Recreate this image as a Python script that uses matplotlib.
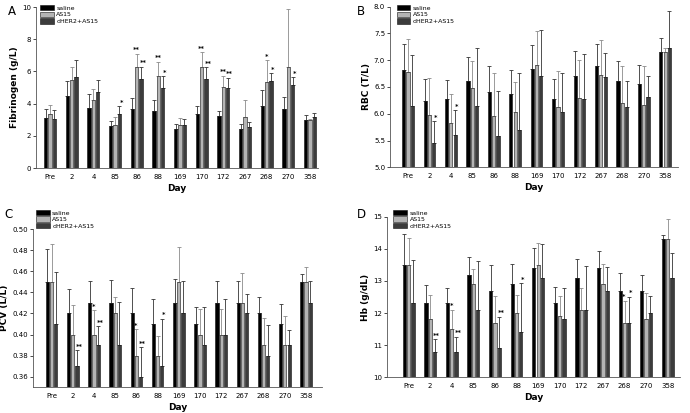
import numpy as np
import matplotlib
matplotlib.use("Agg")
import matplotlib.pyplot as plt
from matplotlib.ticker import FormatStrFormatter

days = ["Pre", "2", "4", "85", "86", "88", "169", "170", "172", "267", "268", "270", "358"]
series = ["saline", "AS15", "dHER2+AS15"]

# Panel A: Fibrinogen (g/L)
fib_saline = [3.10, 4.45, 3.75, 2.60, 3.70, 3.55, 2.45, 3.35, 3.25, 2.45, 3.85, 3.70, 3.00]
fib_as15 = [3.35, 5.50, 4.25, 2.70, 6.25, 5.70, 2.65, 6.25, 5.05, 3.15, 5.35, 6.25, 3.00]
fib_dher2 = [3.05, 5.65, 4.70, 3.35, 5.55, 4.95, 2.70, 5.55, 5.00, 2.55, 5.40, 5.15, 3.20]
fib_saline_err = [0.55, 0.95, 0.85, 0.30, 0.65, 0.65, 0.30, 0.50, 0.30, 0.30, 1.00, 0.70, 0.30]
fib_as15_err = [0.55, 0.80, 0.65, 0.45, 0.85, 0.90, 0.45, 0.95, 0.70, 1.05, 1.35, 3.65, 0.02]
fib_dher2_err = [0.55, 1.05, 0.80, 0.50, 0.75, 0.75, 0.35, 0.70, 0.60, 0.30, 0.50, 0.50, 0.25]
fib_as15_sig = ["", "", "", "", "**", "**", "", "**", "**", "", "*", "", ""]
fib_dher2_sig = ["", "", "", "*", "**", "*", "", "**", "**", "", "*", "*", ""]

# Panel B: RBC (T/L)
rbc_saline = [6.82, 6.24, 6.28, 6.62, 6.41, 6.37, 6.83, 6.27, 6.71, 6.90, 6.62, 6.56, 7.15]
rbc_as15 = [6.78, 5.98, 5.83, 6.48, 5.96, 6.03, 6.91, 6.13, 6.29, 6.73, 6.21, 6.17, 7.16]
rbc_dher2 = [6.15, 5.46, 5.61, 6.14, 5.58, 5.70, 6.71, 6.04, 6.27, 6.68, 6.13, 6.32, 7.22]
rbc_saline_err = [0.48, 0.41, 0.35, 0.44, 0.49, 0.44, 0.46, 0.38, 0.46, 0.41, 0.36, 0.36, 0.27]
rbc_as15_err = [0.62, 0.68, 0.54, 0.50, 0.80, 0.57, 0.63, 0.66, 0.71, 0.65, 0.69, 0.72, 0.06]
rbc_dher2_err = [0.95, 0.40, 0.46, 1.09, 0.84, 1.06, 0.86, 0.72, 0.85, 0.45, 0.48, 0.39, 0.70]
rbc_as15_sig = [""] * 13
rbc_dher2_sig = ["", "*", "*", "", "", "", "", "", "", "", "", "", ""]

# Panel C: PCV (L/L)
pcv_saline = [0.45, 0.42, 0.43, 0.43, 0.42, 0.41, 0.43, 0.41, 0.43, 0.43, 0.42, 0.41, 0.45]
pcv_as15 = [0.45, 0.40, 0.40, 0.42, 0.38, 0.38, 0.45, 0.40, 0.40, 0.43, 0.39, 0.39, 0.45]
pcv_dher2 = [0.41, 0.37, 0.39, 0.39, 0.36, 0.37, 0.42, 0.39, 0.40, 0.42, 0.38, 0.39, 0.43]
pcv_saline_err = [0.031, 0.023, 0.021, 0.022, 0.024, 0.024, 0.023, 0.016, 0.021, 0.021, 0.016, 0.019, 0.007]
pcv_as15_err = [0.036, 0.028, 0.023, 0.016, 0.025, 0.019, 0.033, 0.024, 0.024, 0.028, 0.026, 0.028, 0.014]
pcv_dher2_err = [0.049, 0.015, 0.018, 0.041, 0.028, 0.045, 0.031, 0.036, 0.034, 0.018, 0.029, 0.014, 0.021]
pcv_as15_sig = ["", "", "*", "", "*", "", "", "", "", "", "", "", ""]
pcv_dher2_sig = ["", "**", "**", "", "**", "*", "", "", "", "", "", "", ""]

# Panel D: Hb (g/dL)
hb_saline = [13.5, 12.3, 12.3, 13.2, 12.7, 12.9, 13.4, 12.3, 13.1, 13.4, 12.7, 12.7, 14.3]
hb_as15 = [13.5, 11.8, 11.5, 12.9, 11.7, 12.0, 13.5, 11.9, 12.1, 12.9, 11.7, 11.8, 14.3]
hb_dher2 = [12.3, 10.8, 10.8, 12.1, 10.9, 11.4, 13.1, 11.8, 12.1, 12.7, 11.7, 12.0, 13.1]
hb_saline_err = [0.95, 0.58, 0.48, 0.55, 0.80, 0.63, 0.62, 0.50, 0.58, 0.53, 0.54, 0.48, 0.13]
hb_as15_err = [0.85, 0.75, 0.60, 0.47, 0.84, 0.57, 0.68, 0.64, 0.68, 0.64, 0.68, 0.82, 0.63]
hb_dher2_err = [1.35, 0.38, 0.47, 1.52, 0.98, 1.53, 1.05, 0.98, 1.36, 0.72, 0.81, 0.52, 0.77]
hb_as15_sig = ["", "", "*", "", "", "", "", "", "", "", "*", "", ""]
hb_dher2_sig = ["", "**", "**", "", "**", "*", "", "", "", "", "*", "", ""]

bar_colors = ["#000000", "#b4b4b4", "#3c3c3c"]
err_colors = ["#333333", "#8a8a8a", "#333333"]
star_dx = [0.0, -0.02, 0.09]

fig = plt.figure(figsize=(6.9, 4.13), dpi=100)

panels = [
    dict(letter="A", rect=[0.0522, 0.593, 0.4087, 0.3898], xlim=(-0.65, 12.37),
         ylim=(0, 10), yticks=np.arange(0, 10.01, 2), fmt="%d", ylabel="Fibrinogen (g/L)",
         vals=[fib_saline, fib_as15, fib_dher2], errs=[fib_saline_err, fib_as15_err, fib_dher2_err],
         sigs=[None, fib_as15_sig, fib_dher2_sig], lpos=(0.058, 0.988), lxy=(0.012, 0.988)),
    dict(letter="B", rect=[0.5652, 0.5949, 0.4174, 0.3889], xlim=(-0.84, 12.6),
         ylim=(5.0, 8.0), yticks=np.arange(5.0, 8.01, 0.5), fmt="%.1f", ylabel="RBC (T/L)",
         vals=[rbc_saline, rbc_as15, rbc_dher2], errs=[rbc_saline_err, rbc_as15_err, rbc_dher2_err],
         sigs=[None, rbc_as15_sig, rbc_dher2_sig], lpos=(0.575, 0.988), lxy=(0.517, 0.988)),
    dict(letter="C", rect=[0.0475, 0.0622, 0.4191, 0.3833], xlim=(-0.89, 12.75),
         ylim=(0.35, 0.50), yticks=np.arange(0.36, 0.501, 0.02), fmt="%.2f", ylabel="PCV (L/L)",
         vals=[pcv_saline, pcv_as15, pcv_dher2], errs=[pcv_saline_err, pcv_as15_err, pcv_dher2_err],
         sigs=[None, pcv_as15_sig, pcv_dher2_sig], lpos=(0.052, 0.492), lxy=(0.007, 0.497)),
    dict(letter="D", rect=[0.5609, 0.0864, 0.4246, 0.3889], xlim=(-1.0, 12.57),
         ylim=(10, 15), yticks=np.arange(10, 15.01, 1), fmt="%d", ylabel="Hb (g/dL)",
         vals=[hb_saline, hb_as15, hb_dher2], errs=[hb_saline_err, hb_as15_err, hb_dher2_err],
         sigs=[None, hb_as15_sig, hb_dher2_sig], lpos=(0.57, 0.492), lxy=(0.517, 0.497)),
]

x = np.arange(len(days))
offsets = [-0.2, 0.0, 0.2]
width = 0.15

for p in panels:
    ax = fig.add_axes(p["rect"])
    handles = []
    for i in range(3):
        v = np.array(p["vals"][i])
        e = np.array(p["errs"][i])
        h = ax.bar(x + offsets[i], v - p["ylim"][0], width, bottom=p["ylim"][0],
                   color=bar_colors[i], edgecolor="#111111", linewidth=0.4, label=series[i], zorder=2)
        handles.append(h)
        ax.errorbar(x + offsets[i], v, yerr=[np.zeros_like(e), e], fmt="none",
                    ecolor=err_colors[i], elinewidth=0.6, capsize=1.6, capthick=0.6, zorder=1)
        sig = p["sigs"][i]
        if sig is not None:
            rng = p["ylim"][1] - p["ylim"][0]
            for j, s in enumerate(sig):
                if s:
                    ax.text(x[j] + offsets[i] + star_dx[i], v[j] + e[j] + rng * 0.003, s,
                            ha="center", va="bottom", fontsize=4.8, fontweight="bold")
    ax.set_xlim(*p["xlim"])
    ax.set_ylim(*p["ylim"])
    ax.set_xticks(x)
    ax.set_xticklabels(days)
    ax.set_yticks(p["yticks"])
    ax.yaxis.set_major_formatter(FormatStrFormatter(p["fmt"]))
    ax.tick_params(axis="both", labelsize=5, length=2, width=0.5, pad=1.5)
    ax.tick_params(axis="x", length=0, pad=4)
    for sp in ["top", "right"]:
        ax.spines[sp].set_visible(False)
    for sp in ["left", "bottom"]:
        ax.spines[sp].set_linewidth(0.6)
        ax.spines[sp].set_color("#555555")
    ax.set_ylabel(p["ylabel"], fontsize=6.5, fontweight="bold", labelpad=2)
    ax.set_xlabel("Day", fontsize=6.5, fontweight="bold", labelpad=3)
    fig.legend(handles=handles, labels=series, loc="upper left", bbox_to_anchor=p["lpos"],
               bbox_transform=fig.transFigure, frameon=False, fontsize=4.5,
               handlelength=2.2, handleheight=0.9, labelspacing=0.15, handletextpad=0.4,
               borderaxespad=0, borderpad=0)
    fig.text(p["lxy"][0], p["lxy"][1], p["letter"], fontsize=8.5, ha="left", va="top")

fig.savefig("out.png", dpi=100)
